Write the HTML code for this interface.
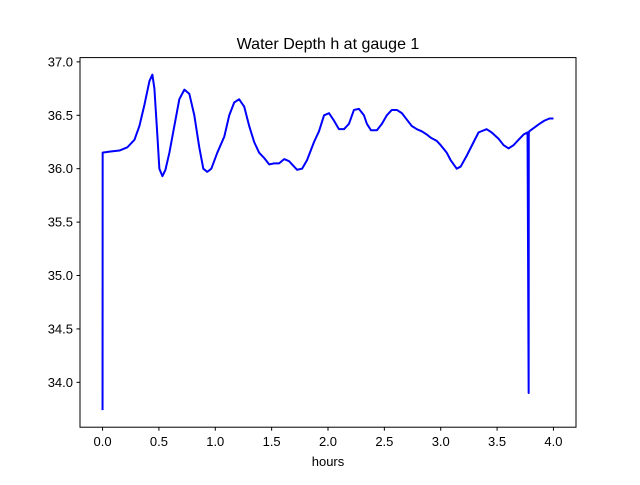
<!DOCTYPE html>
<html><head><meta charset="utf-8"><style>
body{margin:0;background:#fff;}
svg text{font-family:"Liberation Sans","DejaVu Sans",sans-serif;fill:#000;}
</style></head><body>
<svg width="640" height="480" id="c">
<rect x="0" y="0" width="640" height="480" fill="#fff"/>
<text x="328" y="49" font-size="16" text-anchor="middle">Water Depth h at gauge 1</text>
<text x="328" y="466" font-size="13" text-anchor="middle">hours</text>
<g id="ticks"></g>
<path id="line" fill="none" stroke="#0000ff" stroke-width="2" stroke-linejoin="round"/>
<rect x="80" y="57.6" width="496" height="369.6" fill="none" stroke="#000" stroke-width="1"/>
</svg>
<script>
const hours=[0,0.001,0.062,0.15,0.22,0.283,0.327,0.372,0.416,0.442,0.46,0.487,0.504,0.531,0.558,0.593,0.637,0.681,0.726,0.77,0.814,0.858,0.894,0.929,0.965,1.018,1.08,1.124,1.168,1.212,1.257,1.301,1.345,1.389,1.434,1.478,1.522,1.566,1.611,1.655,1.699,1.726,1.77,1.814,1.876,1.92,1.965,2.009,2.053,2.097,2.142,2.186,2.23,2.274,2.319,2.345,2.381,2.434,2.478,2.522,2.566,2.611,2.655,2.699,2.743,2.788,2.832,2.876,2.912,2.965,3.0,3.053,3.088,3.142,3.177,3.23,3.292,3.336,3.407,3.451,3.513,3.558,3.602,3.646,3.69,3.735,3.77,3.78,3.781,3.785,3.876,3.92,3.965,4.0];
const depth=[33.74,36.15,36.16,36.17,36.2,36.27,36.4,36.6,36.82,36.88,36.75,36.3,36.0,35.93,35.99,36.15,36.4,36.65,36.74,36.7,36.5,36.2,36.0,35.97,36.0,36.15,36.3,36.5,36.62,36.65,36.58,36.4,36.25,36.15,36.1,36.04,36.05,36.05,36.09,36.07,36.02,35.99,36.0,36.08,36.25,36.35,36.5,36.52,36.45,36.37,36.37,36.42,36.55,36.56,36.5,36.42,36.36,36.36,36.42,36.5,36.55,36.55,36.52,36.46,36.4,36.37,36.35,36.32,36.29,36.26,36.22,36.15,36.08,36.0,36.02,36.12,36.25,36.34,36.37,36.34,36.28,36.22,36.19,36.22,36.27,36.32,36.34,33.9,36.33,36.35,36.42,36.45,36.47,36.47];
const xTicks=[0,0.5,1,1.5,2,2.5,3,3.5,4];
const yTicks=[34,34.5,35,35.5,36,36.5,37];
const X=v=>80+(v+0.2)*(496/4.4);
const Y=v=>427.2-(v-33.58)*(369.6/3.46);
const NS="http://www.w3.org/2000/svg";
const g=document.getElementById('ticks');
xTicks.forEach(t=>{
 const l=document.createElementNS(NS,'line');
 
 
 l.setAttribute('x1',X(t));l.setAttribute('x2',X(t));l.setAttribute('y1',427.2);l.setAttribute('y2',430.7);l.setAttribute('stroke','#000');
 g.appendChild(l);
 const s=document.createElementNS(NS,'text');
 
 
 s.setAttribute('x',X(t));s.setAttribute('y',446);s.setAttribute('font-size','13');s.setAttribute('text-anchor','middle');
 s.textContent=t.toFixed(1);g.appendChild(s);
});
yTicks.forEach(t=>{
 const l=document.createElementNS(NS,'line');
 
 
 l.setAttribute('x1',76.5);l.setAttribute('x2',80);l.setAttribute('y1',Y(t));l.setAttribute('y2',Y(t));l.setAttribute('stroke','#000');
 g.appendChild(l);
 const s=document.createElementNS(NS,'text');
 
 
 s.setAttribute('x',73);s.setAttribute('y',Y(t)+4.5);s.setAttribute('font-size','13');s.setAttribute('text-anchor','end');
 s.textContent=t.toFixed(1);g.appendChild(s);
});
document.getElementById('line').setAttribute('d',hours.map((h,i)=>(i?'L':'M')+X(h).toFixed(2)+','+Y(depth[i]).toFixed(2)).join(''));
</script>
</body></html>
